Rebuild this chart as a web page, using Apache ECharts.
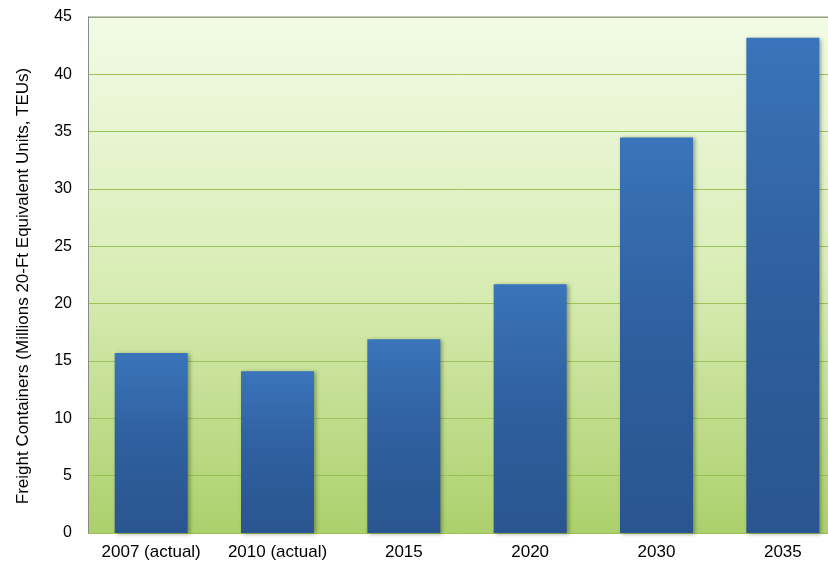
<!DOCTYPE html>
<html><head><meta charset="utf-8">
<script src="https://cdn.jsdelivr.net/npm/echarts@6/dist/echarts.min.js"></script>
<style>html,body{margin:0;padding:0;background:#fff}#c{width:828px;height:563px}</style>
</head><body><div id="c"></div>
<script>
var categories = ['2007 (actual)', '2010 (actual)', '2015', '2020', '2030', '2035'];
var containers = [15.7, 14.1, 16.9, 21.7, 34.5, 43.2];
var yTicks = [0, 5, 10, 15, 20, 25, 30, 35, 40, 45];
var yTitle = 'Freight Containers (Millions 20-Ft Equivalent Units, TEUs)';

var chart = echarts.init(document.getElementById('c'), null, {renderer: 'canvas'});
chart.setOption({
  animation: false,
  grid: {left: 88, top: 17, width: 758, height: 516, show: true, borderWidth: 0,
    outerBoundsMode: 'none', containLabel: false,
    backgroundColor: new echarts.graphic.LinearGradient(0, 0, 0, 1, [
      {offset: 0, color: '#f3fbe6'}, {offset: 0.5, color: '#d9edb6'}, {offset: 1, color: '#acd06c'}])},
  xAxis: {type: 'category', data: categories,
    axisLine: {show: false}, axisTick: {show: false},
    axisLabel: {interval: 0, hideOverlap: false, color: '#000', fontFamily: 'Liberation Sans, Arial', fontSize: 17, margin: 11}},
  yAxis: {type: 'value', min: 0, max: 45, interval: 5,
    name: yTitle, nameLocation: 'middle', nameGap: 56, nameRotate: 90,
    nameTextStyle: {color: '#000', fontFamily: 'Liberation Sans, Arial', fontSize: 17, padding: [0, 22, 0, 0]},
    axisLine: {show: true, lineStyle: {color: '#8a8a8a', width: 1}}, axisTick: {show: false},
    axisLabel: {color: '#000', fontFamily: 'Liberation Sans, Arial', fontSize: 16, margin: 16,
      formatter: function (v) { return yTicks.indexOf(v) >= 0 ? String(v) : ''; }},
    splitLine: {show: true, lineStyle: {color: '#9cc25a', width: 1}}},
  series: [{type: 'bar', data: containers, barWidth: 73,
    itemStyle: {color: new echarts.graphic.LinearGradient(0, 0, 0, 1, [
      {offset: 0, color: '#3a74ba'}, {offset: 0.5, color: '#2f5f9e'}, {offset: 1, color: '#2a5590'}]),
      shadowColor: 'rgba(40,60,20,0.45)', shadowBlur: 4, shadowOffsetX: 2, shadowOffsetY: 1}}],
  graphic: [{type: 'line', shape: {x1: 88, y1: 17, x2: 828, y2: 17}, style: {stroke: '#8a8a8a', lineWidth: 1}, z: 10}]
});
</script></body></html>
